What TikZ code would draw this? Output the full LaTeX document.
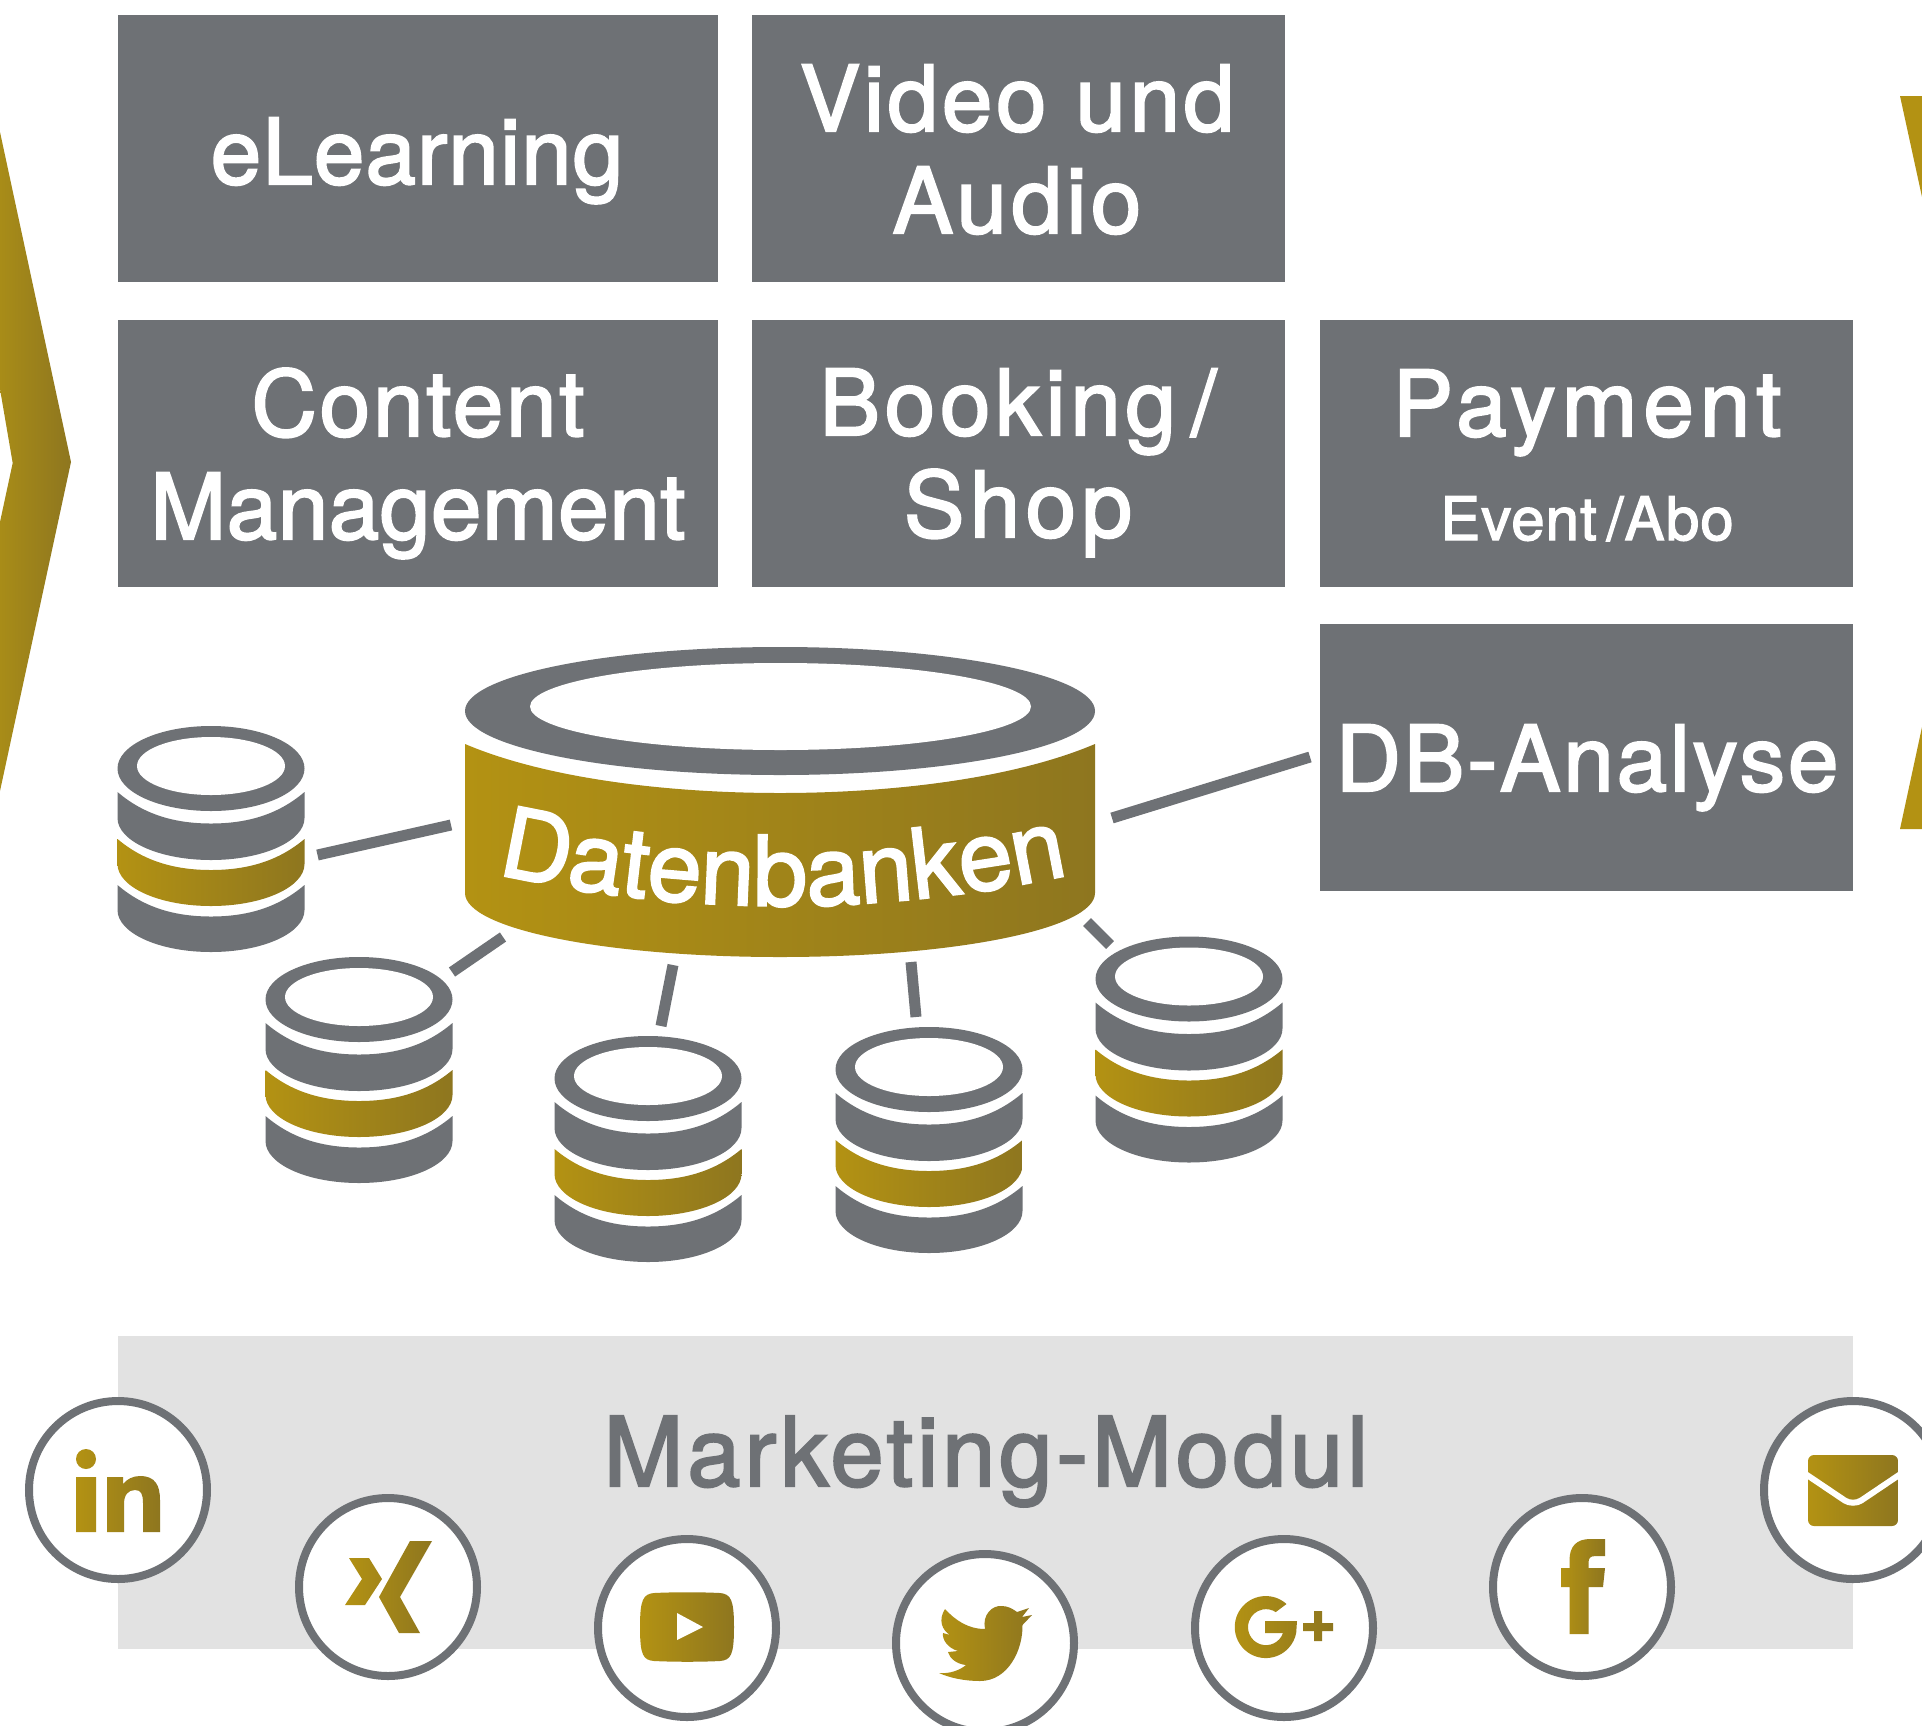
\documentclass[tikz,border=0pt]{standalone}
\usepackage{fontspec}
\setmainfont{TeX Gyre Heros}
\newfontfamily\heavy[FakeBold=2.2]{TeX Gyre Heros}
\newcommand{\lsp}[1]{\addfontfeature{LetterSpace=#1}}
\usetikzlibrary{decorations.text}
\definecolor{grayA}{HTML}{6E7175}
\definecolor{bandA}{HTML}{E2E2E2}
\definecolor{goldA}{HTML}{B39213}
\definecolor{goldB}{HTML}{8E761F}
\definecolor{goldC}{HTML}{A88C18}
\tikzset{
  box/.style={rectangle,fill=grayA,draw=none,inner sep=0pt,outer sep=0pt},
  big/.style={text=white,font=\heavy\fontsize{45.5}{50}\selectfont,inner sep=0pt,align=center,anchor=base},
  sub/.style={text=white,font=\heavy\fontsize{30}{33}\selectfont,inner sep=0pt,anchor=base},
  goldfill/.style={left color=goldA,right color=goldB,draw=none},
  social/.style={circle,draw=grayA,fill=white,line width=4pt,minimum size=89pt,inner sep=0pt},
  conn/.style={draw=grayA,line width=5.5pt},
  grayfill/.style={fill=grayA,draw=none},
  dbpic/.pic={
    \fill[grayA] (0,42.5) ellipse[x radius=93.5,y radius=42.5];
    \fill[white] (0,40) ellipse[x radius=74,y radius=29];
    \foreach \st/\stc/\sb/\col in {66/97.5/92/grayfill,113/144/138/goldfill,159/190.5/184/grayfill}{
      \path[\col] (-93.5,\st) .. controls (-67,{\st+.72*(\stc-\st)}) and (-36,\stc) .. (0,\stc)
        .. controls (36,\stc) and (67,{\st+.72*(\stc-\st)}) .. (93.5,\st)
        -- (93.5,\sb) .. controls (93.5,{\sb+23}) and (52,{\sb+42}) .. (0,{\sb+42})
        .. controls (-52,{\sb+42}) and (-93.5,{\sb+23}) .. (-93.5,\sb) -- cycle;
    }
  }
}
\begin{document}
\begin{tikzpicture}[x=0.5pt,y=-0.5pt]
\clip (0,0) rectangle (1922,1725);
\fill[white] (0,0) rectangle (1922,1725);

% chevrons
\path[left color=goldC,right color=goldB,draw=none] (0,132) -- (71,462) -- (0,791) -- (0,522) -- (12.7,463) -- (0,389) -- cycle;
\fill[goldA] (1900,96) -- (1922,96) -- (1922,197) -- cycle;
\fill[goldA] (1900,829) -- (1922,727) -- (1922,829) -- cycle;

% boxes
\node[box,minimum width=300pt,minimum height=133.5pt] (elearn) at (418,148.5) {};
\node[box,minimum width=266.5pt,minimum height=133.5pt] (video) at (1018.5,148.5) {};
\node[box,minimum width=300pt,minimum height=133.5pt] (content) at (418,453.5) {};
\node[box,minimum width=266.5pt,minimum height=133.5pt] (booking) at (1018.5,453.5) {};
\node[box,minimum width=266.5pt,minimum height=133.5pt] (payment) at (1586.5,453.5) {};
\node[box,minimum width=266.5pt,minimum height=133.5pt] (dbana) at (1586.5,757.5) {};

\node[big] (t1) at (417,184) {\lsp{1.1}eLearning};
\node[big] (t2a) at (1017,131) {\lsp{3.9}Video und};
\node[big] (t2b) at (1017,233) {\lsp{4.7}Audio};
\node[big] (t3a) at (418,436) {\lsp{2.9}Content};
\node[big] (t3b) at (418,539) {\lsp{0.5}Management};
\node[big] (t4a) at (1018,435) {\lsp{5.1}Booking\,/};
\node[big] (t4b) at (1018,537) {\lsp{5.8}Shop};
\node[big] (t5) at (1587,436) {\lsp{6.4}Payment};
\node[sub] (t5b) at (1587,540) {\lsp{1.8}Event\,/Abo};
\node[big] (t6) at (1587,791) {\lsp{3}DB-Analyse};

% central database
\fill[grayA] (780,711) ellipse[x radius=315,y radius=64];
\fill[white] (780.5,706.5) ellipse[x radius=250.5,y radius=43.5];
\path[goldfill] (465,744) .. controls (545,778) and (665,793) .. (780,793)
  .. controls (895,793) and (1015,778) .. (1095,744)
  -- (1095,893) .. controls (1095,929) and (954,957) .. (780,957)
  .. controls (606,957) and (465,929) .. (465,893) -- cycle;
\path[decorate,decoration={text along path,text align=center,
  text={|\heavy\fontsize{48.5}{52}\selectfont\color{white}|Datenbanken}}]
  (484,871) .. controls (680,917) and (880,917) .. (1082,872);

% small databases
\pic (dba) at (211,726) {dbpic};
\pic (dbb) at (359,957) {dbpic};
\pic (dbc) at (648,1036) {dbpic};
\pic (dbd) at (929,1027) {dbpic};
\pic (dbe) at (1189,936.5) {dbpic};

% connectors
\coordinate (c1a) at (317.5,855); \coordinate (c1b) at (451,825);
\coordinate (c2a) at (452,972);  \coordinate (c2b) at (503,937);
\coordinate (c3a) at (661,1026); \coordinate (c3b) at (673,965);
\coordinate (c4a) at (916,1017); \coordinate (c4b) at (911,962);
\coordinate (c5a) at (1087,922); \coordinate (c5b) at (1110,945);
\coordinate (c6a) at (1112,818); \coordinate (c6b) at (1310,757);
\draw[conn] (c1a) -- (c1b);
\draw[conn] (c2a) -- (c2b);
\draw[conn] (c3a) -- (c3b);
\draw[conn] (c4a) -- (c4b);
\draw[conn] (c5a) -- (c5b);
\draw[conn] (c6a) -- (c6b);

% marketing band
\node[rectangle,fill=bandA,inner sep=0pt,minimum width=867.5pt,minimum height=156.5pt] (band) at (985.5,1492.5) {};
\node[text=grayA,font=\heavy\fontsize{48}{53}\selectfont,inner sep=0pt,anchor=base] (mm) at (986,1486) {\lsp{3.9}Marketing-Modul};

% social circles
\node[social] (in) at (118,1490) {};
\node[social] (xing) at (388,1587) {};
\node[social] (yt) at (687,1628) {};
\node[social] (tw) at (985,1643) {};
\node[social] (gp) at (1284,1628) {};
\node[social] (fb) at (1582,1587) {};
\node[social] (mail) at (1853,1490) {};

% linkedin
\path[goldfill] (86,1459) ellipse[x radius=10,y radius=10]
  (76,1477) rectangle (96,1532)
  (107,1532) -- (107,1477) -- (123,1477) -- (123,1484) .. controls (127,1479) and (133,1476) .. (140,1476)
  .. controls (155,1476) and (160,1485) .. (160,1500) -- (160,1532) -- (143,1532) -- (143,1503)
  .. controls (143,1494) and (141,1490) .. (135,1490) .. controls (128,1490) and (124,1495) .. (124,1504)
  -- (124,1532) -- cycle;
% xing
\path[goldfill] (349,1558) -- (369,1558) -- (382,1579) -- (365,1605) -- (345,1605) -- (362,1579) -- cycle
  (410,1541) -- (432,1541) -- (400,1597) -- (420,1633) -- (399,1633) -- (379,1597) -- cycle;
% youtube
\path[goldfill] (654,1593) .. controls (675,1592) and (700,1592) .. (720,1593)
  .. controls (731,1594) and (734,1600) .. (734,1627)
  .. controls (734,1655) and (731,1660) .. (720,1661)
  .. controls (700,1662) and (675,1662) .. (654,1661)
  .. controls (643,1660) and (640,1655) .. (640,1627)
  .. controls (640,1600) and (643,1594) .. (654,1593) -- cycle;
\fill[white] (677,1613) -- (703,1627) -- (677,1640) -- cycle;
% twitter
\path[goldfill] (945,1609) .. controls (955,1620) and (968,1629) .. (985,1629)
  .. controls (982,1615) and (992,1605) .. (1002,1606)
  .. controls (1008,1606) and (1013,1609) .. (1017,1612) -- (1029,1608) -- (1022,1617) -- (1032,1615) -- (1022.5,1625)
  .. controls (1023,1650) and (1008,1681) .. (980,1681)
  .. controls (965,1681) and (950,1678) .. (939,1673)
  .. controls (950,1674) and (960,1670) .. (966,1665)
  .. controls (957,1664) and (950,1659) .. (948,1652) -- (958,1651)
  .. controls (948,1648) and (942,1640) .. (943,1633) -- (950,1635)
  .. controls (942,1630) and (938,1620) .. (945,1609) -- cycle;
% google plus
\path[goldfill] (1286.5,1604) arc[start angle=48,end angle=349,radius=15.5pt]
  -- (1297,1621) -- (1265,1621) -- (1265,1633) -- (1283,1633)
  arc[start angle=341,end angle=57,radius=9pt] -- cycle
  (1314,1611) -- (1322,1611) -- (1322,1623) -- (1333,1623) -- (1333,1631) -- (1322,1631) -- (1322,1641)
  -- (1314,1641) -- (1314,1631) -- (1303,1631) -- (1303,1623) -- (1314,1623) -- cycle;
% facebook
\path[goldfill] (1569.5,1634) -- (1569.5,1587) -- (1561,1587) -- (1561,1568) -- (1569.5,1568) -- (1569.5,1560)
  .. controls (1569.5,1546) and (1577,1539) .. (1590,1539) -- (1605,1539) -- (1605,1556) -- (1596,1556)
  .. controls (1590,1556) and (1588.5,1558) .. (1588.5,1563) -- (1588.5,1568) -- (1605,1568) -- (1603,1587)
  -- (1588.5,1587) -- (1588.5,1634) -- cycle;
% mail
\path[goldfill,rounded corners=3pt] (1808,1455) rectangle (1898,1526);
\draw[white,line width=3pt,rounded corners=5pt] (1804,1473) -- (1853,1506) -- (1902,1473);
\end{tikzpicture}
\end{document}
